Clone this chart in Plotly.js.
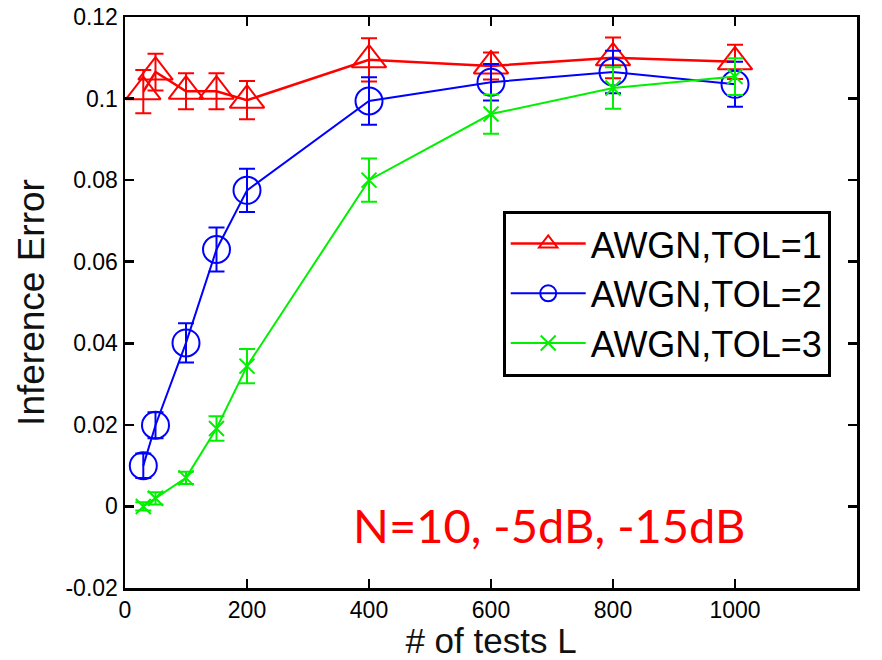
<!DOCTYPE html>
<html>
<head>
<meta charset="utf-8">
<script src="https://cdn.plot.ly/plotly-3.0.1.min.js"></script>
<style>
  html, body { margin: 0; padding: 0; background: #ffffff; }
  #chart { width: 882px; height: 660px; }
</style>
</head>
<body>
<div id="chart"></div>
<script>
// Number of tests L
const testsL = [30, 50, 100, 150, 200, 400, 600, 800, 1000];

// Inference error (mean) and error-bar half-widths per tolerance
const errTol1 = [0.1017, 0.1065, 0.1018, 0.1018, 0.0996, 0.1095, 0.1080, 0.1100, 0.1090];
const barTol1 = [0.0053, 0.0045, 0.0044, 0.0044, 0.0047, 0.0053, 0.0033, 0.0050, 0.0042];

const errTol2 = [0.0100, 0.0199, 0.0401, 0.0630, 0.0775, 0.0994, 0.1040, 0.1065, 0.1035];
const barTol2 = [0.0030, 0.0032, 0.0048, 0.0054, 0.0053, 0.0058, 0.0045, 0.0052, 0.0055];

const errTol3 = [0.0000, 0.0020, 0.0070, 0.0191, 0.0344, 0.0800, 0.0962, 0.1026, 0.1054];
const barTol3 = [0.0010, 0.0015, 0.0015, 0.0030, 0.0042, 0.0053, 0.0048, 0.0051, 0.0045];

const seriesNames = ['AWGN,TOL=1', 'AWGN,TOL=2', 'AWGN,TOL=3'];

// Axis ticks
const xTicks = [0, 200, 400, 600, 800, 1000, 1200];
const yTicks = [-0.02, 0, 0.02, 0.04, 0.06, 0.08, 0.1, 0.12];
const yTickText = ['-0.02', '0', '0.02', '0.04', '0.06', '0.08', '0.1', '0.12'];

const noteText = 'N=10, -5dB, -15dB';

function series(name, y, bars, color, symbol, size, lineWidth) {
  return {
    type: 'scatter',
    mode: 'lines+markers',
    name: name,
    x: testsL,
    y: y,
    line: { color: color, width: lineWidth },
    marker: { symbol: symbol, size: size, color: color, line: { color: color, width: 2 } },
    error_y: { type: 'data', array: bars, visible: true, color: color, thickness: 2, width: 8 }
  };
}

const traces = [
  series(seriesNames[0], errTol1, barTol1, '#ff0000', 'triangle-up-open', 30, 2.5),
  series(seriesNames[1], errTol2, barTol2, '#0000ff', 'circle-open', 27, 2),
  series(seriesNames[2], errTol3, barTol3, '#00f000', 'x-thin-open', 15, 2)
];

const sansFamily = 'Liberation Sans, Arial, sans-serif';
const tickFont = { family: sansFamily, size: 23, color: '#000000' };

const layout = {
  width: 882,
  height: 660,
  margin: { l: 125, r: 25, t: 17, b: 72 },
  paper_bgcolor: '#ffffff',
  plot_bgcolor: '#ffffff',
  showlegend: true,
  xaxis: {
    range: [0, 1200],
    tickvals: xTicks,
    ticks: 'inside',
    ticklen: 9,
    tickwidth: 2.5,
    tickcolor: '#000000',
    showline: true,
    linewidth: 2.5,
    linecolor: '#000000',
    mirror: 'ticks',
    showgrid: false,
    zeroline: false,
    tickfont: tickFont,
    automargin: false,
    title: { text: '# of tests L', font: { family: sansFamily, size: 35, color: '#111111' }, standoff: 4 }
  },
  yaxis: {
    range: [-0.02, 0.12],
    tickvals: yTicks,
    ticktext: yTickText,
    ticks: 'inside',
    ticklen: 9,
    tickwidth: 2.5,
    tickcolor: '#000000',
    showline: true,
    linewidth: 2.5,
    linecolor: '#000000',
    mirror: 'ticks',
    showgrid: false,
    zeroline: false,
    tickfont: tickFont,
    automargin: false,
    title: { text: 'Inference Error', font: { family: sansFamily, size: 37, color: '#111111' }, standoff: 10 }
  },
  legend: {
    x: 0.516,
    y: 0.661,
    xanchor: 'left',
    yanchor: 'top',
    bgcolor: '#ffffff',
    bordercolor: '#000000',
    borderwidth: 3,
    font: { family: sansFamily, size: 36, color: '#000000' },
    itemwidth: 75,
    tracegroupgap: 0
  },
  annotations: [{
    xref: 'paper', yref: 'y',
    x: 0.579, y: -0.0045,
    text: noteText,
    showarrow: false,
    font: { family: 'Lato, Calibri, sans-serif', size: 47, color: '#ff0000' },
    xanchor: 'center',
    yanchor: 'middle'
  }]
};

Plotly.newPlot('chart', traces, layout, { displayModeBar: false, staticPlot: true });
</script>
</body>
</html>
